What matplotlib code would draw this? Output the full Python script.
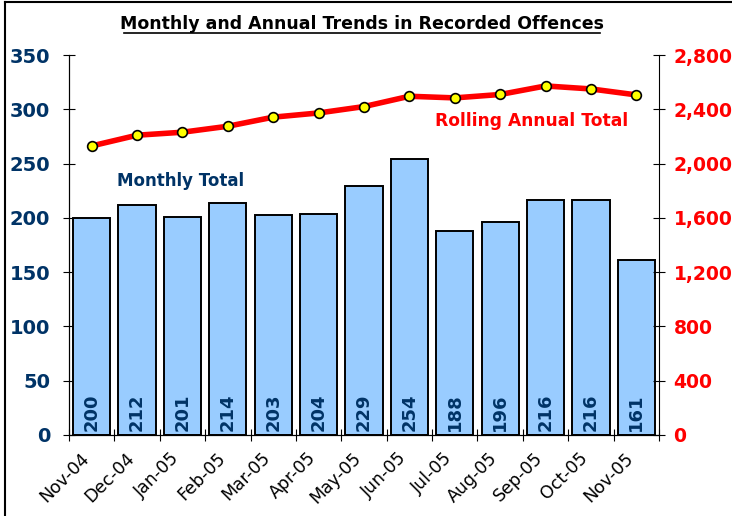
import matplotlib.pyplot as plt
import matplotlib.transforms as mtransforms
import numpy as np

# data
months = ['Nov-04', 'Dec-04', 'Jan-05', 'Feb-05', 'Mar-05', 'Apr-05', 'May-05',
          'Jun-05', 'Jul-05', 'Aug-05', 'Sep-05', 'Oct-05', 'Nov-05']
monthly = [200, 212, 201, 214, 203, 204, 229, 254, 188, 196, 216, 216, 161]
rolling = [2130, 2209, 2231, 2275, 2342, 2373, 2420, 2496, 2484, 2509, 2572, 2550, 2506]

NAVY = '#003366'
RED = '#FF0000'

plt.rcParams['font.family'] = ['DejaVu Sans']

fig = plt.figure(figsize=(7.32, 5.16), dpi=100)
ax = fig.add_axes([69/732, 81/516, 590/732, 380/516])
ax2 = ax.twinx()

x = np.arange(len(months))
ax.bar(x, monthly, width=0.82, color='#99CCFF', edgecolor='black', linewidth=1.4, zorder=2)
for xi, v in zip(x, monthly):
    ax.text(xi, 4, str(v), rotation=90, ha='center', va='bottom',
            fontsize=13, fontweight='bold', color=NAVY, zorder=3)

ax2.plot(x, rolling, color=RED, lw=4, marker='o', markersize=7,
         markerfacecolor='#FFFF00', markeredgecolor='black', markeredgewidth=1.2, zorder=4)

ax.set_xlim(-0.5, len(months) - 0.5)
ax.set_ylim(0, 350)
ax2.set_ylim(0, 2800)
ax.set_yticks(np.arange(0, 351, 50))
ax2.set_yticks(np.arange(0, 2801, 400))
ax2.set_yticklabels(['{:,}'.format(v) for v in range(0, 2801, 400)])

ax.set_xticks(x)
ax.set_xticklabels(months, rotation=45, ha='right', rotation_mode='anchor', fontsize=12.5)
ax.set_xticks(np.arange(-0.5, len(months)), minor=True)
ax.tick_params(axis='x', which='major', length=0, pad=10)
ax.tick_params(axis='x', which='minor', length=8, direction='inout', width=0.8)
# excel puts the rotated labels a little left of the category centre
shift = mtransforms.ScaledTranslation(-12/100, 0, fig.dpi_scale_trans)
for lab in ax.get_xticklabels():
    lab.set_transform(lab.get_transform() + shift)

ax.tick_params(axis='y', direction='inout', length=9, width=0.8, labelsize=14,
               labelcolor=NAVY, pad=9)
ax2.tick_params(axis='y', direction='inout', length=9, width=0.8, labelsize=13.5,
                labelcolor=RED, pad=6)
for lab in ax.get_yticklabels():
    lab.set_fontweight('bold')
for lab in ax2.get_yticklabels():
    lab.set_fontweight('bold')

for a in (ax, ax2):
    a.spines['top'].set_visible(False)
ax.spines['right'].set_visible(False)

ax.text(117/732, (516-181)/516, 'Monthly Total', transform=fig.transFigure,
        fontsize=12, fontweight='bold', color=NAVY, va='center')
ax.text(435/732, (516-121)/516, 'Rolling Annual Total', transform=fig.transFigure,
        fontsize=12.3, fontweight='bold', color=RED, va='center')

fig.text(362/732, (516-24)/516, 'Monthly and Annual Trends in Recorded Offences',
         ha='center', va='center', fontsize=12.5, fontweight='bold')
# underline for the title
fig.add_artist(plt.Line2D([124/732, 600/732], [(516-33)/516] * 2, color='black', lw=1.2))

# outer frame, top and left edges only show in the image
fig.add_artist(plt.Line2D([5/732, 1], [1 - 2/516] * 2, color='black', lw=1.5))
fig.add_artist(plt.Line2D([5/732] * 2, [0, 1 - 2/516], color='black', lw=1.5))

fig.savefig('out.png', dpi=100)
